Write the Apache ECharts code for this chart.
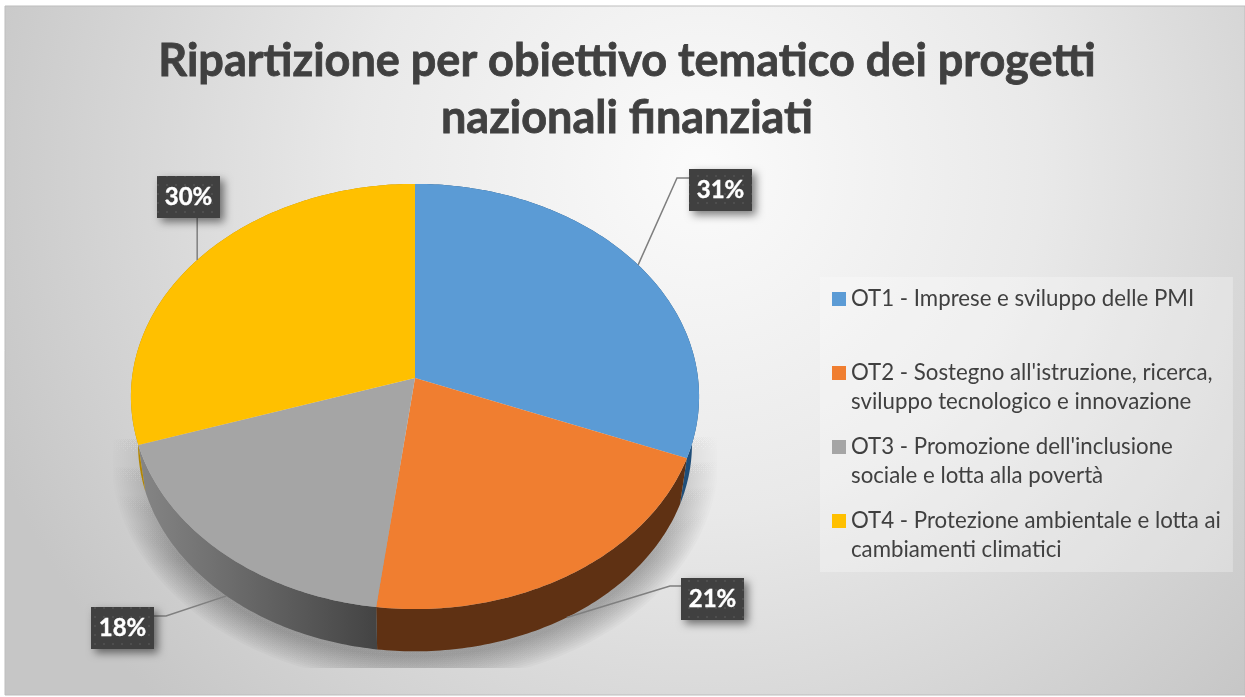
<!DOCTYPE html>
<html>
<head>
<meta charset="utf-8">
<title>Ripartizione per obiettivo tematico</title>
<style>
  html, body { margin: 0; padding: 0; background: #fff; }
  #chart { width: 1245px; height: 697px; }
</style>
<script src="https://cdn.jsdelivr.net/npm/echarts@6/dist/echarts.min.js"></script>
</head>
<body>
<div id="chart"></div>
<script>
  const titleText = 'Ripartizione per obiettivo tematico dei progetti\nnazionali finanziati';
  const categories = [
    'OT1 - Imprese e sviluppo delle PMI\n ',
    "OT2 - Sostegno all'istruzione, ricerca,\nsviluppo tecnologico e innovazione",
    "OT3 - Promozione dell'inclusione\nsociale e lotta alla povertà",
    'OT4 - Protezione ambientale e lotta ai\ncambiamenti climatici',
  ];
  const values = [31, 21, 18, 30];
  const colors = ['#5b9bd5', '#f07e30', '#a5a5a5', '#ffc000'];
  const wallColors = ['#1f4e79', '#5f3113', '#666666', '#b38600'];

  // where each label box sits, and how the leader line bends before reaching it
  const labelBoxes = [
    { x: 689, y: 169, elbow: [677, 178], end: [689, 178], rim: 'top' },
    { x: 681, y: 578, elbow: [670, 586], end: [681, 586], rim: 'bottom' },
    { x: 91, y: 607, elbow: [166, 616], end: [154, 616], rim: 'bottom' },
    { x: 157, y: 176, elbow: null, end: null, rim: 'top' },
  ];

  // the tilted disc: an apex with a slight perspective on the rim
  const apex = [415, 378];
  const radiusX = 283;
  const radiusY = 211;
  const perspective = 0.087;
  const depthScale = 0.975;
  const depthShift = 48;

  const total = values.reduce((a, b) => a + b, 0);
  const toAngle = (v) => (v / total) * Math.PI * 2;

  const rimPoint = (angle, bottom) => {
    const w = 1 + perspective * Math.cos(angle);
    const x = (radiusX * Math.sin(angle)) / w;
    const y = (-radiusY * Math.cos(angle)) / w;
    if (bottom) return [apex[0] + x * depthScale, apex[1] + y * depthScale + depthShift];
    return [apex[0] + x, apex[1] + y];
  };

  const arc = (from, to, bottom) => {
    const pts = [];
    const steps = Math.max(2, Math.ceil((to - from) / 0.015));
    for (let i = 0; i <= steps; i++) {
      pts.push(rimPoint(from + ((to - from) * i) / steps, bottom));
    }
    return pts;
  };

  let running = 0;
  const sliceData = values.map((v) => {
    const row = [running, running + v, v];
    running += v;
    return row;
  });

  // dotted texture of the label boxes
  const dots = document.createElement('canvas');
  dots.width = 9;
  dots.height = 9;
  const dotsCtx = dots.getContext('2d');
  dotsCtx.fillStyle = '#404040';
  dotsCtx.fillRect(0, 0, 9, 9);
  dotsCtx.fillStyle = '#4e4e4e';
  dotsCtx.fillRect(4, 4, 2, 2);

  const renderShadow = () => {
    const children = [];
    const rings = 14;
    for (let i = 0; i < rings; i++) {
      const grow = 1 + (i * 2.1) / radiusX;
      const pts = arc(0, Math.PI * 2, true).map(([x, y]) => [
        Math.min(717, Math.max(113, apex[0] + (x - apex[0]) * grow)),
        Math.min(668, apex[1] + (y - apex[1]) * grow + 6),
      ]);
      children.push({
        type: 'polygon',
        shape: { points: pts },
        silent: true,
        style: {
          fill: {
            type: 'linear', x: 0, y: 425, x2: 0, y2: 560, global: true,
            colorStops: [
              { offset: 0, color: 'rgba(0,0,0,0)' },
              { offset: 1, color: 'rgba(0,0,0,0.024)' },
            ],
          },
        },
      });
    }
    return { type: 'group', children };
  };

  const renderWall = (params, api) => {
    const from = toAngle(api.value(0));
    const to = toAngle(api.value(1));
    const pts = arc(from, to, false).concat(arc(from, to, true).reverse());
    const grey = params.dataIndex === 2;
    return {
      type: 'polygon',
      shape: { points: pts },
      style: {
        fill: grey
          ? {
              type: 'linear', x: 140, y: 0, x2: 375, y2: 0, global: true,
              colorStops: [
                { offset: 0, color: '#858585' },
                { offset: 1, color: '#444444' },
              ],
            }
          : wallColors[params.dataIndex],
      },
    };
  };

  const renderSlice = (index) => (params, api) => {
    const from = toAngle(api.value(0));
    const to = toAngle(api.value(1));
    const mid = (from + to) / 2;
    const box = labelBoxes[index];
    const anchor = rimPoint(mid, box.rim === 'bottom');
    const boxW = 63;
    const boxH = 42;
    const leader = box.elbow ? [anchor, box.elbow, box.end] : [anchor, [anchor[0], box.y + boxH]];
    return {
      type: 'group',
      children: [
        {
          type: 'polygon',
          shape: { points: [apex].concat(arc(from, to, false)) },
          style: { fill: colors[index] },
        },
        {
          type: 'polyline',
          shape: { points: leader },
          style: { stroke: '#7f7f7f', lineWidth: 1.5, fill: 'none' },
        },
        {
          type: 'rect',
          shape: { x: box.x, y: box.y, width: boxW, height: boxH },
          style: {
            fill: { image: dots, repeat: 'repeat' },
            shadowBlur: 9,
            shadowOffsetX: 4,
            shadowOffsetY: 4,
            shadowColor: 'rgba(0,0,0,0.5)',
          },
        },
        {
          type: 'text',
          style: {
            x: box.x + boxW / 2,
            y: box.y + boxH / 2,
            text: api.value(2) + '%',
            fill: '#ffffff',
            font: 'bold 24px Lato',
            align: 'center',
            verticalAlign: 'middle',
            stroke: '#ffffff',
            lineWidth: 0.4,
          },
        },
      ],
    };
  };

  const series = [
    {
      type: 'custom',
      coordinateSystem: 'none',
      name: 'shadow',
      z: 1,
      silent: true,
      data: [[0]],
      renderItem: renderShadow,
    },
    {
      type: 'custom',
      coordinateSystem: 'none',
      name: 'walls',
      z: 2,
      silent: true,
      data: sliceData,
      renderItem: renderWall,
    },
  ];
  categories.forEach((name, i) => {
    series.push({
      type: 'custom',
      coordinateSystem: 'none',
      name,
      z: 3,
      itemStyle: { color: colors[i] },
      data: [sliceData[i]],
      renderItem: renderSlice(i),
    });
  });

  const legendIcon = 'path://M0 0L14 0M0 8L14 8L14 22L0 22ZM0 59L14 59';

  const chart = echarts.init(document.getElementById('chart'));
  chart.setOption({
    animation: false,
    graphic: [
      {
        type: 'rect',
        silent: true,
        z: -1,
        shape: { x: 5, y: 6, width: 1240, height: 689 },
        style: {
          stroke: '#bdbdbd',
          lineWidth: 1,
          fill: {
            type: 'radial', x: 700, y: 170, r: 760, global: true,
            colorStops: [
              { offset: 0, color: '#fbfbfb' },
              { offset: 0.45, color: '#e9e9e9' },
              { offset: 1, color: '#c6c6c6' },
            ],
          },
        },
      },
    ],
    title: {
      text: titleText,
      left: 622,
      top: 28,
      textAlign: 'center',
      textStyle: {
        fontFamily: 'Lato',
        fontWeight: 'bold',
        fontSize: 45,
        lineHeight: 57,
        color: '#404040',
        textBorderColor: '#404040',
        textBorderWidth: 0.8,
      },
    },
    legend: {
      orient: 'vertical',
      left: 820,
      top: 277,
      padding: [7, 12, 7, 12],
      itemGap: 15,
      itemWidth: 14,
      itemHeight: 59,
      selectedMode: false,
      backgroundColor: 'rgba(255,255,255,0.28)',
      textStyle: { fontFamily: 'Lato', fontSize: 22.25, lineHeight: 29.5, color: '#404040' },
      data: categories.map((name, i) => ({
        name,
        icon: legendIcon,
        itemStyle: { color: colors[i] },
      })),
    },
    series,
  });
</script>
</body>
</html>
